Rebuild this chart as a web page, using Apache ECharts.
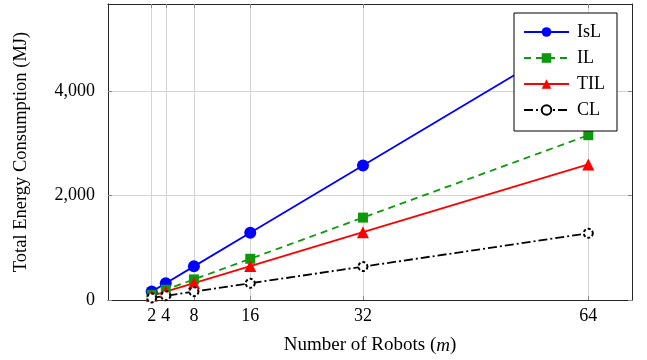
<!DOCTYPE html>
<html>
<head>
<meta charset="utf-8">
<script src="https://cdn.jsdelivr.net/npm/echarts@6/dist/echarts.min.js"></script>
<style>
html,body{margin:0;padding:0;background:#fff;}
#c{width:647px;height:360px;}
</style>
</head>
<body>
<div id="c"></div>
<script>
const robots = [2, 4, 8, 16, 32, 64];
const isl = [161, 322, 645, 1290, 2580, 5160];
const il = [99, 198, 395, 790, 1580, 3160];
const til = [81, 162, 325, 650, 1300, 2600];
const cl = [40, 80, 160, 320, 640, 1280];
const xTicks = [2, 4, 8, 16, 32, 64];
const yTicks = [0, 2000, 4000];
const seriesNames = ['IsL', 'IL', 'TIL', 'CL'];

const FONT = 'Liberation Serif';
const xMin = -4.2, xMax = 70.2, yMin = 0, yMax = 5676;
function pts(vals){ return robots.map((r,i)=>[r, vals[i]]); }

const chart = echarts.init(document.getElementById('c'), null, {renderer:'canvas'});
const gridColor = '#d4d4d4';
const tickColor = '#8a8a8a';
const frameColor = '#262626';

const option = {
  animation: false,
  backgroundColor: '#fff',
  grid: {left: 108, right: 15, top: 4, bottom: 60, containLabel: false},
  xAxis: [{
    type: 'value', min: xMin, max: xMax,
    name: 'Number of Robots ({i|m})', nameLocation: 'middle', nameGap: 36,
    nameTextStyle: {fontFamily: FONT, fontSize: 19, color: '#000',
      rich: {i: {fontFamily: FONT, fontStyle: 'italic', fontSize: 19, color: '#000'}}},
    axisLine: {show: true, onZero: false, lineStyle: {color: frameColor, width: 1}},
    axisTick: {show: true, inside: true, length: 4, customValues: xTicks, lineStyle: {color: tickColor}},
    axisLabel: {customValues: xTicks, fontFamily: FONT, fontSize: 18, color: '#000', margin: 7},
    splitLine: {show: true, lineStyle: {color: gridColor, width: 1}}
  }, {
    type: 'value', min: xMin, max: xMax, position: 'top',
    axisLine: {show: true, onZero: false, lineStyle: {color: frameColor, width: 1}},
    axisTick: {show: true, inside: true, length: 4, customValues: xTicks, lineStyle: {color: tickColor}},
    axisLabel: {show: false, customValues: xTicks},
    splitLine: {show: false}
  }],
  yAxis: [{
    type: 'value', min: yMin, max: yMax,
    name: 'Total Energy Consumption (MJ)', nameLocation: 'middle', nameGap: 77, nameRotate: 90,
    nameTextStyle: {fontFamily: FONT, fontSize: 18.5, color: '#000'},
    axisLine: {show: true, onZero: false, lineStyle: {color: frameColor, width: 1}},
    axisTick: {show: true, inside: true, length: 4, customValues: yTicks, lineStyle: {color: tickColor}},
    axisLabel: {customValues: yTicks, fontFamily: FONT, fontSize: 18, color: '#000', margin: 13,
      formatter: v => Number(v).toLocaleString('en-US')},
    splitLine: {show: true, lineStyle: {color: gridColor, width: 1}}
  }, {
    type: 'value', min: yMin, max: yMax, position: 'right',
    axisLine: {show: true, onZero: false, lineStyle: {color: frameColor, width: 1}},
    axisTick: {show: true, inside: true, length: 4, customValues: yTicks, lineStyle: {color: tickColor}},
    axisLabel: {show: false, customValues: yTicks},
    splitLine: {show: false}
  }],
  legend: {
    orient: 'vertical', right: 30, top: 13,
    backgroundColor: '#fff', borderColor: '#000', borderWidth: 1, borderRadius: 0,
    padding: [10, 12, 12, 9],
    itemWidth: 45, itemHeight: 12, itemGap: 8,
    textStyle: {fontFamily: FONT, fontSize: 18, color: '#000', lineHeight: 14, padding: [0, 0, 0, 3],
      width: 28, align: 'center'},
    data: seriesNames
  },
  series: [
    {name: 'IsL', type: 'line', data: pts(isl), symbol: 'circle', symbolSize: 12,
      lineStyle: {color: '#0000ff', width: 1.8}, itemStyle: {color: '#0000ff'}},
    {name: 'IL', type: 'line', data: pts(il), symbol: 'rect', symbolSize: 10,
      lineStyle: {color: '#0c9a0c', width: 1.8, type: [7, 5]}, itemStyle: {color: '#0c9a0c'}},
    {name: 'TIL', type: 'line', data: pts(til), symbol: 'triangle', symbolSize: 12,
      lineStyle: {color: '#ff0000', width: 1.8}, itemStyle: {color: '#ff0000'}},
    {name: 'CL', type: 'line', data: pts(cl), symbol: 'emptyCircle', symbolSize: 9,
      lineStyle: {color: '#000', width: 1.8, type: [9, 3, 2, 3]},
      itemStyle: {color: '#000', borderColor: '#000', borderWidth: 1.6, borderType: [3, 2]}}
  ]
};
chart.setOption(option);
</script>
</body>
</html>
